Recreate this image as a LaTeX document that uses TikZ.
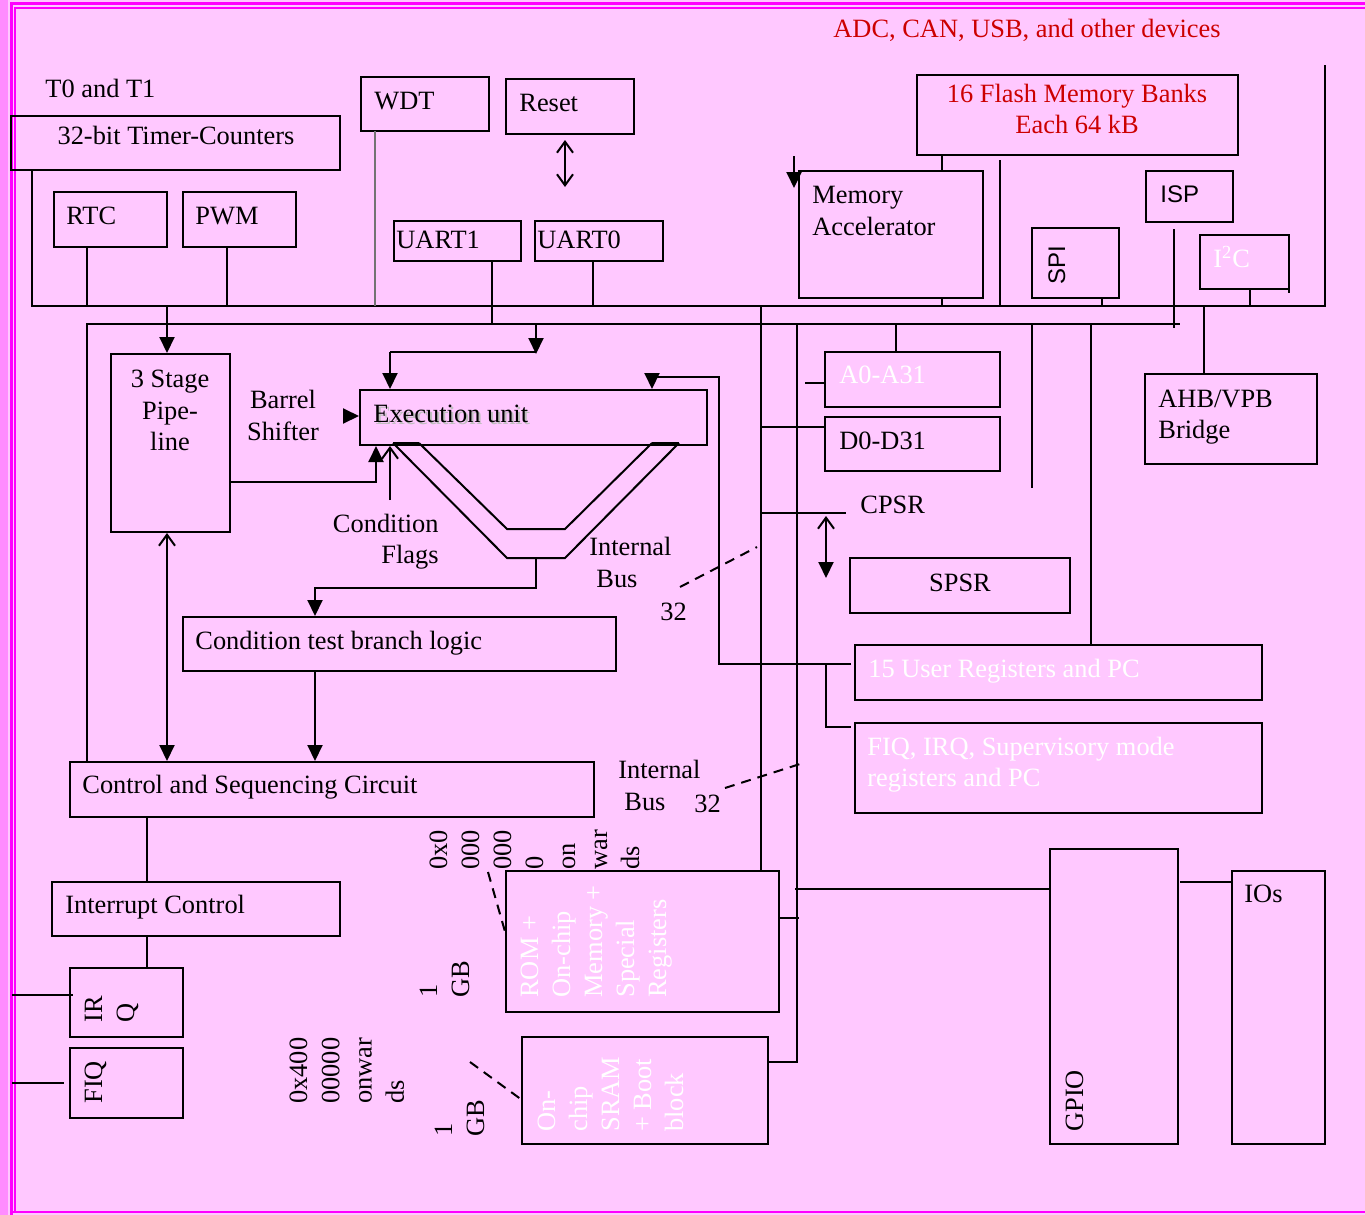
\documentclass[tikz,border=0pt]{standalone}
\usepackage{fontspec}
\setmainfont{Liberation Serif}
\newfontfamily\sansf{Liberation Sans}
\usetikzlibrary{arrows.meta,calc}
\definecolor{bgpink}{RGB}{255,200,255}
\definecolor{mag}{RGB}{255,0,255}
\definecolor{magl}{RGB}{255,140,255}
\definecolor{dred}{RGB}{204,0,0}
\newcommand\bx[5]{\node[box, minimum width={(#4-#2)*0.5pt}, minimum height={(#5-#3)*0.5pt}] (#1) at ({(#2+#4)/2},{(#3+#5)/2}) {};}
\begin{document}
\begin{tikzpicture}[x=0.5pt,y=-0.5pt,
  box/.style={draw, line width=1pt, inner sep=0pt},
  wire/.style={line width=1pt},
  tx/.style={inner sep=0pt, anchor=base west, font=\fontsize{13.2}{16}\selectfont},
  txc/.style={tx, anchor=base},
  txe/.style={tx, anchor=base east},
  rt/.style={tx, rotate=90},
  sf/.style={inner sep=0pt, anchor=base west, font=\sansf\fontsize{12}{14}\selectfont},
  arr/.style={wire, -{Triangle[length=8pt,width=7.5pt]}},
  barb/.style={wire, -{Straight Barb[length=5.5pt,width=8pt]}},
  dbarb/.style={wire, {Straight Barb[length=5.5pt,width=8pt]}-{Straight Barb[length=5.5pt,width=8pt]}},
  barbarr/.style={wire, {Straight Barb[length=5.5pt,width=8pt]}-{Triangle[length=8pt,width=7.5pt]}},
  dashln/.style={wire, dash pattern=on 5pt off 3.5pt}
]
% background and frame
\useasboundingbox (0,0) rectangle (1365,1215);
\fill[bgpink] (0,0) rectangle (1365,1215);
\fill[magl] (0,0) rectangle (8,1215);
\draw[mag, line width=1.5pt] (11.5,1215) -- (11.5,3.5) -- (1365,3.5);
\draw[mag, line width=1pt] (15,1212) -- (15,8) -- (1365,8);
\draw[mag, line width=1.2pt] (11.5,1212) -- (1365,1212);

% ---------- boxes ----------
\bx{tc}{11}{116}{340}{170}
\bx{rtc}{54}{192}{167}{247}
\bx{pwm}{183}{192}{296}{247}
\bx{wdt}{361}{77}{489}{131}
\bx{reset}{506}{79}{634}{134}
\bx{ua1}{394}{221}{521}{261}
\bx{ua0}{535}{221}{663}{261}
\bx{flash}{917}{75}{1238}{155}
\bx{memacc}{799}{171}{983}{298}
\bx{spi}{1032}{228}{1119}{298}
\bx{isp}{1146}{171}{1233}{222}
\bx{iic}{1200}{235}{1289}{289}
\bx{ahb}{1145}{374}{1317}{464}
\bx{pipe}{111}{354}{230}{532}
\bx{exec}{360}{390}{707}{445}
\bx{ctb}{183}{617}{616}{671}
\bx{csc}{70}{762}{594}{817}
\bx{ic}{52}{882}{340}{936}
\bx{irq}{70}{968}{183}{1037}
\bx{fiq}{70}{1048}{183}{1118}
\bx{aregs}{825}{352}{1000}{407}
\bx{dregs}{825}{417}{1000}{471}
\bx{spsr}{850}{558}{1070}{613}
\bx{uregs}{855}{645}{1262}{700}
\bx{fregs}{855}{723}{1262}{813}
\bx{rom}{506}{871}{779}{1012}
\bx{sram}{522}{1037}{768}{1144}
\bx{gpio}{1050}{849}{1178}{1144}
\bx{ios}{1232}{871}{1325}{1144}

% ---------- texts ----------
\node[txc, text=dred] (adc) at (1027,38) {ADC, CAN, USB, and other devices};
\node[tx] (t01) at (45,97) {T0 and T1};
\node[txc] (tct) at (176,144) {32-bit Timer-Counters};
\node[tx] (rtct) at (66,224) {RTC};
\node[tx] (pwmt) at (195,224) {PWM};
\node[tx] (wdtt) at (374,109) {WDT};
\node[tx] (rest) at (519,111) {Reset};
\node[tx] (ua1t) at (396,248) {UART1};
\node[tx] (ua0t) at (537,248) {UART0};
\node[txc, text=dred] (fl1) at (1077,102) {16 Flash Memory Banks};
\node[txc, text=dred] (fl2) at (1077,133) {Each 64 kB};
\node[tx] (ma1) at (812,203) {Memory};
\node[tx] (ma2) at (812,235) {Accelerator};
\node[sf] (ispt) at (1160,202) {ISP};
\node[sf, rotate=90] (spit) at (1065,285) {SPI};
\node[tx, text=white] (iict) at (1213,267) {I\textsuperscript{2}C};
\node[tx] (ahb1) at (1158,407) {AHB/VPB};
\node[tx] (ahb2) at (1158,438) {Bridge};
\node[tx, text=white] (at) at (839,383) {A0-A31};
\node[tx] (dt) at (839,449) {D0-D31};
\node[tx] (cpsr) at (860,513) {CPSR};
\node[txc] (spsrt) at (960,591) {SPSR};
\node[txc] (pp1) at (170,387) {3 Stage};
\node[txc] (pp2) at (170,419) {Pipe-};
\node[txc] (pp3) at (170,450) {line};
\node[txc] (bs1) at (283,408) {Barrel};
\node[txc] (bs2) at (283,440) {Shifter};
\node[tx, text=black!25] (exts) at (375,424) {Execution unit};
\node[tx] (ext) at (373,422) {Execution unit};
\node[txe] (cf1) at (439,532) {Condition};
\node[txe] (cf2) at (439,563) {Flags};
\node[tx] (ib1) at (589,555) {Internal};
\node[tx] (ib2) at (596,587) {Bus};
\node[tx] (n32a) at (660,620) {32};
\node[tx] (ctbt) at (195,649) {Condition test branch logic};
\node[tx] (csct) at (82,793) {Control and Sequencing Circuit};
\node[tx] (ib3) at (618,778) {Internal};
\node[tx] (ib4) at (624,810) {Bus};
\node[tx] (n32b) at (694,812) {32};
\node[tx] (ict) at (65,913) {Interrupt Control};
\node[tx, text=white] (urt) at (868,677) {15 User Registers and PC};
\node[tx, text=white] (fr1) at (867,755) {FIQ, IRQ, Supervisory mode};
\node[tx, text=white] (fr2) at (867,786) {registers and PC};
\node[tx] (iost) at (1244,902) {IOs};
\node[rt] (gpiot) at (1083,1132) {GPIO};
\node[rt] (irq1) at (102,1023) {IR};
\node[rt] (irq2) at (134,1023) {Q};
\node[rt] (fiqt) at (102,1104) {FIQ};
\foreach \t [count=\i from 0] in {0x0,000,000,0,on,war,ds}
  \node[rt] (adra\i) at ({447+32*\i},870) {\t};
\foreach \t [count=\i from 0] in {1,GB}
  \node[rt] (gba\i) at ({437+32*\i},998) {\t};
\foreach \t [count=\i from 0] in {1,GB}
  \node[rt] (gbb\i) at ({452+32*\i},1137) {\t};
\foreach \t [count=\i from 0] in {0x400,00000,onwar,ds}
  \node[rt] (adrb\i) at ({307+32.3*\i},1104) {\t};
\foreach \t [count=\i from 0] in {ROM +,On-chip,Memory +,Special,Registers}
  \node[rt, text=white] (romt\i) at ({538+32*\i},998) {\t};
\foreach \t [count=\i from 0] in {On-,chip,SRAM,+ Boot,block}
  \node[rt, text=white] (sramt\i) at ({555+32*\i},1132) {\t};

% ---------- buses ----------
\coordinate (b1L) at (32,306);
\coordinate (b1R) at (1325,306);
\coordinate (rtop) at (1325,65);
\coordinate (b2L) at (87,324);
\coordinate (b2R) at (1180,324);
\draw[wire] (b1L |- tc.south) -- (b1L) -- (b1R) -- (rtop);
\draw[wire] (csc.north -| b2L) -- (b2L) -- (b2R);
\draw[wire] (rtc.south -| 87,0) -- (87,306);
\draw[wire] (227,247) -- (227,306);
\draw[line width=0.7pt, black!55] (375,131) -- (375,306);
\draw[wire] (492,261) -- (492,324);
\draw[wire] (593,261) -- (593,306);
\draw[wire] (1174,229) -- (1174,328);

% ---------- upper right ----------
\draw[wire] (942,155) -- (942,171);
\draw[wire] (942,298) -- (942,306);
\draw[wire] (1000,160) -- (1000,306);
\draw[arr] (794,156) -- (794,188);
\draw[wire] (1102,298) -- (1102,306);
\draw[wire] (1250,289) -- (1250,306);
\draw[wire] (1289,270) -- (1289,293);
\draw[wire] (1204,306) -- (ahb.north -| 1204,0);

% ---------- core ----------
\draw[arr] (167,306) -- (pipe.north -| 167,0);
\draw[arr] (536,324) -- (536,354);
\draw[wire] (390,352) -- (536,352);
\draw[arr] (390,352) -- (exec.north -| 390,0);
\draw[wire] (851,664) -- (719,664) -- (719,377) -- (652,377);
\draw[arr] (652,376) -- (exec.north -| 652,0);
\draw[arr] (pipe.east |- 0,482) -- (376,482) -- (exec.south -| 376,0);
\draw[barb] (390,500) -- (exec.south -| 390,0);
\draw[arr] (343,416) -- (exec.west |- 0,416);
% internal bus funnel
\draw[wire] (393,443) -- (507,558) -- (565,558) -- (679,443);
\draw[wire] (419,443) -- (507,529) -- (565,529) -- (652,443);
\draw[wire] (393,442.5) -- (419,442.5);
\draw[wire] (652,442.5) -- (679,442.5);
\draw[arr] (536,558) -- (536,588) -- (315,588) -- (ctb.north -| 315,0);
\draw[arr] (ctb.south -| 315,0) -- (csc.north -| 315,0);
\draw[barbarr] (pipe.south -| 167,0) -- (csc.north -| 167,0);
\draw[wire] (csc.south -| 147,0) -- (ic.north -| 147,0);
\draw[wire] (ic.south -| 147,0) -- (irq.north -| 147,0);
\draw[wire] (12,995) -- (73,995);
\draw[wire] (12,1083) -- (64,1083);
\draw[dbarb] (565,140) -- (565,187);

% dashed bus markers
\draw[dashln] (680,587) -- (757,547);
\draw[dashln] (725,788) -- (800,764);
\draw[dashln] (488,872) -- (506,935);
\draw[dashln] (470,1062) -- (522,1100);

% ---------- register side ----------
\draw[wire] (761,306) -- (rom.north -| 761,0);
\draw[wire] (797,324) -- (797,1062) -- (sram.east |- 0,1062);
\draw[wire] (896,324) -- (aregs.north -| 896,0);
\draw[wire] (1032,324) -- (1032,488);
\draw[wire] (1091,324) -- (uregs.north -| 1091,0);
\draw[wire] (761,427) -- (dregs.west |- 0,427);
\draw[wire] (761,513) -- (846,513);
\draw[wire] (805,383) -- (aregs.west |- 0,383);
\draw[barbarr] (826,516) -- (826,578);
\draw[wire] (826,664) -- (826,727) -- (851,727);
\draw[wire] (rom.east |- 0,918) -- (799,918);
\draw[wire] (795,889) -- (gpio.west |- 0,889);
\draw[wire] (1180,882) -- (ios.west |- 0,882);
\end{tikzpicture}
\end{document}
